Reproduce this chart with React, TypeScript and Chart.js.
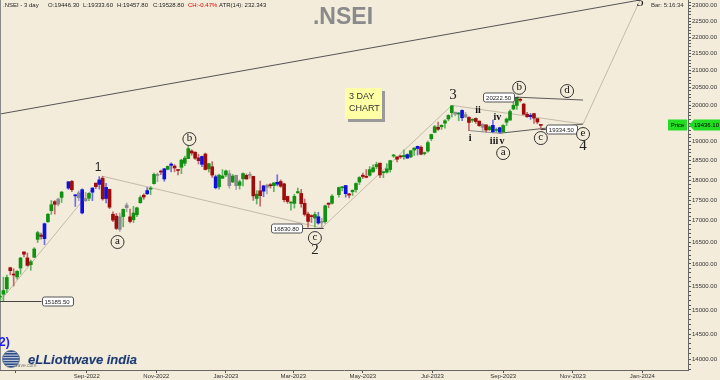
import React, { useEffect, useRef } from 'react';
import { Chart, registerables } from 'chart.js';

Chart.register(...registerables);

// ---- 3-day candles (.NSEI) ----
const barDates = [
  '2022-06-17','2022-06-20','2022-06-23','2022-06-26','2022-06-29','2022-07-02','2022-07-05','2022-07-08','2022-07-11','2022-07-14','2022-07-17','2022-07-20','2022-07-23','2022-07-26','2022-07-29','2022-08-01','2022-08-04','2022-08-07','2022-08-10',
  '2022-08-16','2022-08-19','2022-08-22','2022-08-25','2022-08-28','2022-08-31','2022-09-03','2022-09-06','2022-09-09','2022-09-12','2022-09-15','2022-09-18','2022-09-21','2022-09-24','2022-09-27','2022-09-30',
  '2022-10-03','2022-10-06','2022-10-09','2022-10-12','2022-10-15','2022-10-18','2022-10-21','2022-10-24','2022-10-27','2022-10-30',
  '2022-11-02','2022-11-05','2022-11-08','2022-11-11','2022-11-14','2022-11-17','2022-11-20','2022-11-23','2022-11-26','2022-11-29',
  '2022-12-02','2022-12-05','2022-12-08','2022-12-11','2022-12-14','2022-12-17','2022-12-20','2022-12-23','2022-12-26','2022-12-29',
  '2023-01-01','2023-01-04','2023-01-07','2023-01-10','2023-01-13','2023-01-16','2023-01-19','2023-01-22','2023-01-25','2023-01-28','2023-01-31',
  '2023-02-03','2023-02-06','2023-02-09','2023-02-12','2023-02-15','2023-02-18','2023-02-21','2023-02-24','2023-02-27',
  '2023-03-02','2023-03-05','2023-03-08','2023-03-11','2023-03-14','2023-03-17','2023-03-20','2023-03-23','2023-03-26','2023-03-29',
  '2023-04-01','2023-04-04','2023-04-10','2023-04-13','2023-04-16','2023-04-19','2023-04-22','2023-04-25','2023-04-28',
  '2023-05-01','2023-05-04','2023-05-07','2023-05-10','2023-05-13','2023-05-16','2023-05-19','2023-05-22','2023-05-25','2023-05-28','2023-05-31',
  '2023-06-03','2023-06-06','2023-06-09','2023-06-12','2023-06-15','2023-06-18','2023-06-21','2023-06-24','2023-06-27','2023-06-30',
  '2023-07-03','2023-07-06','2023-07-09','2023-07-12','2023-07-15','2023-07-18','2023-07-21','2023-07-24','2023-07-27','2023-07-30',
  '2023-08-02','2023-08-05','2023-08-08','2023-08-11','2023-08-14','2023-08-17','2023-08-20','2023-08-23','2023-08-26','2023-08-29',
  '2023-09-01','2023-09-04','2023-09-07','2023-09-10','2023-09-13','2023-09-16','2023-09-19','2023-09-22','2023-09-25','2023-09-28',
  '2023-10-01','2023-10-04',
];

const opens = [
  15272,15335,15451,15916,15757,15710,15909,16273,16136,15984,16151,16562,16662,16578,16977,17243,17463,17402,17566,
  17797,17967,17614,17679,17188,17485,17546,17696,17923,17890,18046,17540,17766,17157,17111,16798,
  17102,17379,17094,17025,17144,17438,17622,17736,17771,17910,
  18130,18211,18288,18272,18376,18358,18246,18326,18430,18552,
  18752,18719,18570,18402,18671,18288,18340,18085,17831,18045,
  18131,18163,17952,18121,17867,18033,18119,18118,18094,17541,17731,
  17721,17818,17885,17859,17896,17965,17905,17591,17428,
  17421,17680,17665,17422,17160,17111,17066,17097,16984,16978,
  17428,17422,17634,17807,17863,17654,17707,17761,17951,
  18124,18081,18120,18210,18339,18432,18187,18201,18268,18619,18594,
  18613,18600,18656,18595,18774,18873,18849,18682,18748,19076,
  19246,19385,19400,19497,19612,19787,19800,19748,19850,19666,
  19654,19577,19627,19554,19383,19450,19320,19439,19298,19374,
  19258,19525,19581,19890,19990,20155,20027,19744,19678,19761,
  19622,19446.3,
];
const highs = [
  15400,15707,15749,15928,15892,15852,16150,16275,16248,16087,16370,16752,16706,16947,17172,17490,17490,17548,17720,
  17968,17992,17641,17726,17777,17695,17684,17810,17925,18088,18096,17919,17773,17212,17176,17188,
  17287,17429,17280,17348,17328,17607,17657,17811,17838,18176,
  18178,18255,18297,18362,18442,18395,18262,18534,18614,18888,
  18782,18728,18664,18617,18696,18431,18473,18128,18149,18266,
  18252,18243,18141,18127,17999,18184,18155,18202,18100,17735,17972,
  17870,17898,17916,17939,18135,18005,17924,17599,17467,
  17645,17800,17766,17529,17211,17145,17207,17205,17062,17381,
  17428,17638,17825,17842,17863,17666,17755,17931,18089,
  18180,18267,18344,18389,18458,18432,18218,18420,18508,18662,18603,
  18641,18778,18676,18770,18839,18881,18887,18722,19011,19201,
  19435,19524,19455,19595,19731,19991,19801,19795,19867,19795,
  19678,19620,19645,19557,19482,19458,19425,19584,19366,19388,
  19458,19637,19867,20110,20222,20196,20050,19798,19766,19767,
  19623,19457.8,
];
const lows = [
  15183,15191,15367,15758,15511,15661,15774,16157,15950,15858,16142,16490,16564,16438,16960,17155,17161,17359,17442,
  17765,17710,17345,17487,17166,17467,17488,17487,17786,17772,17497,17429,17291,16978,16788,16748,
  16855,17216,16950,16956,17098,17421,17520,17637,17637,17899,
  17959,18136,17969,18259,18209,18210,18133,18162,18365,18552,
  18639,18528,18410,18345,18255,18202,18068,17779,17774,18037,
  18086,17796,17936,17761,17774,17853,18024,18044,17494,17405,17353,
  17584,17652,17797,17711,17854,17818,17455,17421,17255,
  17306,17671,17325,17113,16850,16958,16850,16917,16828,16940,
  17313,17404,17574,17730,17574,17553,17612,17697,17885,
  18042,18055,18100,18194,18288,18060,18060,18178,18202,18581,18464,
  18556,18531,18555,18574,18633,18646,18647,18646,18720,19024,
  19235,19300,19328,19361,19562,19666,19700,19563,19563,19655,
  19296,19524,19493,19413,19257,19253,19296,19229,19249,19223,
  19255,19432,19581,19865,19879,20086,19739,19657,19601,19492,
  19479,19333.6,
];
const closes = [
  15294,15413,15699,15850,15752,15835,16133,16220,15967,16049,16340,16719,16631,16930,17158,17388,17398,17525,17698,
  17956,17758,17605,17559,17759,17539,17666,17798,17833,18004,17531,17816,17327,17016,16818,17094,
  17274,17315,16984,17186,17312,17564,17576,17656,17786,18145,
  18117,18203,18028,18350,18410,18308,18244,18512,18563,18812,
  18696,18561,18497,18608,18269,18420,18127,17806,18123,18105,
  18233,17859,18101,17858,17957,18165,18027,18118,17604,17649,17610,
  17854,17872,17856,17929,17944,17844,17511,17466,17451,
  17594,17711,17413,17154,16985,17100,17151,16945,16951,17360,
  17398,17599,17812,17828,17660,17624,17744,17915,18065,
  18090,18069,18266,18315,18399,18129,18203,18285,18499,18634,18534,
  18594,18635,18563,18756,18826,18817,18665,18692,18972,19189,
  19399,19332,19439,19564,19711,19979,19745,19778,19646,19733,
  19517,19597,19543,19428,19465,19310,19396,19266,19307,19254,
  19435,19611,19820,19993,20192,20134,19742,19674,19716,19638,
  19529,19436.1,
];

const blueBarDates = ['2022-07-26','2022-08-16','2022-08-22','2022-08-28','2022-09-06','2022-09-12','2022-09-18','2022-10-24','2022-11-08','2022-11-14','2022-12-11','2022-12-23','2023-02-03','2023-02-15','2023-03-23','2023-04-16','2023-06-09','2023-06-18','2023-07-27','2023-08-23','2023-08-29','2023-09-25'];
const grayBarDates = ['2022-08-07','2022-08-25','2022-08-31','2022-09-30','2022-10-06','2022-11-02','2023-01-04','2023-01-10','2023-01-22','2023-02-06','2023-03-26','2023-07-21','2023-07-30','2023-08-14'];

// ---- axes ----
const xTickDates = ['2022-07-01','2022-09-01','2022-11-01','2023-01-01','2023-03-01','2023-05-01','2023-07-01','2023-09-01','2023-11-01','2024-01-01'];
const xTickLabels = ['','Sep-2022','Nov-2022','Jan-2023','Mar-2023','May-2023','Jul-2023','Sep-2023','Nov-2023','Jan-2024'];
const yTickLabels = ['14000.00','14500.00','15000.00','15500.00','16000.00','16500.00','17000.00','17500.00','18000.00','18500.00','19000.00','19500.00','20000.00','20500.00','21000.00','21500.00','22000.00','22500.00','23000.00'];
const xStartDate = '2022-06-17';
const xEndDate = '2024-02-10';
const yMin = 13786;
const yMax = 23179;

// ---- Elliott wave annotations ----
const waveNumbers = [
  { text: '1', date: '2022-09-11', price: 18306, serif: false },
  { text: '2', date: '2023-03-20', price: 16316, serif: true },
  { text: '3', date: '2023-07-19', price: 20283, serif: true },
  { text: '4', date: '2023-11-10', price: 18881, serif: true },
  { text: '5', date: '2023-12-30', price: 23120, serif: true },
];
const circledLetters = [
  { text: 'a', date: '2022-09-28', price: 16500 },
  { text: 'b', date: '2022-11-30', price: 19067 },
  { text: 'c', date: '2023-03-20', price: 16592 },
  { text: 'a', date: '2023-09-01', price: 18696 },
  { text: 'b', date: '2023-09-15', price: 20490 },
  { text: 'c', date: '2023-10-04', price: 19094 },
  { text: 'd', date: '2023-10-27', price: 20397 },
  { text: 'e', date: '2023-11-10', price: 19202 },
];
const romanLabels = [
  { text: 'i', date: '2023-08-03', price: 19094 },
  { text: 'ii', date: '2023-08-10', price: 19861 },
  { text: 'iii', date: '2023-08-24', price: 19014 },
  { text: 'iv', date: '2023-08-27', price: 19666 },
  { text: 'v', date: '2023-08-31', price: 19014 },
];
const channelLine = [['2022-06-17', 19750], ['2023-12-30', 23180]];
const wavePath = [['2022-06-17', 15183], ['2022-09-15', 18096], ['2023-03-26', 16828], ['2023-07-18', 19991], ['2023-11-10', 19473], ['2023-12-30', 23180]];
const triangleUpper = [['2023-09-13', 20222], ['2023-11-10', 20141]];
const triangleLower = [['2023-08-29', 19223], ['2023-11-10', 19473]];
const subwaveLower = [['2023-08-02', 19296], ['2023-08-29', 19223]];
const priceBoxes = [
  { text: '15185.50', price: 15185.5, anchor: '2022-06-17', box: '2022-08-06' },
  { text: '16830.80', price: 16830.8, anchor: '2023-03-26', box: '2023-02-23' },
  { text: '20222.50', price: 20222.5, anchor: '2023-09-13', box: '2023-08-28' },
  { text: '19334.50', price: 19334.5, anchor: '2023-10-04', box: '2023-10-22' },
];
const lastPrice = 19436.1;
const headerItems = [
  { text: '.NSEI - 3 day', x: 3, color: '#222' },
  { text: 'O:19446.30', x: 48, color: '#222' },
  { text: 'L:19333.60', x: 83, color: '#222' },
  { text: 'H:19457.80', x: 117, color: '#222' },
  { text: 'C:19528.80', x: 153, color: '#222' },
  { text: 'CH:-0.47%', x: 188, color: '#e00000' },
  { text: 'ATR(14): 232.343', x: 219, color: '#222' },
];

const BASE = Date.UTC(2022, 8, 1);
function dayNum(s: string) {
  return (Date.UTC(+s.slice(0, 4), +s.slice(5, 7) - 1, +s.slice(8, 10)) - BASE) / 86400000;
}

const BG = '#F3ECDB';
const FONT = "'Liberation Sans', Arial, sans-serif";
const SERIF = "'Liberation Serif', 'Times New Roman', serif";

function kindOf(i: number) {
  if (blueBarDates.includes(barDates[i])) return 'b';
  if (grayBarDates.includes(barDates[i])) return 'k';
  return closes[i] >= opens[i] ? 'g' : 'r';
}
const bodyPalette: Record<string, string> = { g: '#119111', r: '#9e0c0c', b: '#1010dc', k: '#8c8c8c' };
const wickPalette: Record<string, string> = { g: '#5fb45f', r: '#c46a6a', b: '#6f6fe6', k: '#a8a8a8' };

function roundRect(ctx: CanvasRenderingContext2D, x: number, y: number, w: number, h: number, r: number) {
  ctx.beginPath();
  ctx.moveTo(x + r, y);
  ctx.arcTo(x + w, y, x + w, y + h, r);
  ctx.arcTo(x + w, y + h, x, y + h, r);
  ctx.arcTo(x, y + h, x, y, r);
  ctx.arcTo(x, y, x + w, y, r);
  ctx.closePath();
}

const annotPlugin = {
  id: 'ewAnnot',
  beforeDraw(chart: any) {
    const ctx = chart.ctx;
    ctx.save();
    ctx.fillStyle = BG;
    ctx.fillRect(0, 0, chart.width, chart.height);
    ctx.restore();
  },
  beforeDatasetsDraw(chart: any) {
    const { ctx, chartArea: a, scales } = chart;
    const X = (d: string) => scales.x.getPixelForValue(dayNum(d));
    const Y = (p: number) => scales.y.getPixelForValue(p);
    ctx.save();
    ctx.beginPath();
    ctx.rect(a.left, a.top, a.right - a.left, a.bottom - a.top);
    ctx.clip();
    const poly = (pts: any[], color: string) => {
      ctx.strokeStyle = color;
      ctx.lineWidth = 1;
      ctx.beginPath();
      pts.forEach(([d, p]: any, i: number) => (i ? ctx.lineTo(X(d), Y(p)) : ctx.moveTo(X(d), Y(p))));
      ctx.stroke();
    };
    poly(wavePath, '#c4baa8');
    poly(channelLine, '#555555');
    poly(triangleUpper, '#5a5a5a');
    poly(triangleLower, '#5a5a5a');
    poly(subwaveLower, '#8a8a8a');
    ctx.strokeStyle = '#8a8a8a';
    ctx.beginPath();
    ctx.moveTo(a.left + 0.5, a.top);
    ctx.lineTo(a.left + 0.5, a.bottom);
    ctx.stroke();
    ctx.restore();
  },
  afterDatasetsDraw(chart: any) {
    const { ctx, scales } = chart;
    const X = (d: string) => scales.x.getPixelForValue(dayNum(d));
    const Y = (p: number) => scales.y.getPixelForValue(p);
    ctx.save();
    ctx.textAlign = 'center';
    ctx.textBaseline = 'middle';
    ctx.font = `6px ${FONT}`;
    priceBoxes.forEach((b) => {
      const cx = X(b.box);
      const cy = Math.round(Y(b.price)) + 0.5;
      const w = ctx.measureText(b.text).width + 6;
      const h = 9;
      const ax = X(b.anchor);
      ctx.strokeStyle = '#444';
      ctx.lineWidth = 1;
      ctx.beginPath();
      if (ax < cx) { ctx.moveTo(ax, cy); ctx.lineTo(cx - w / 2, cy); }
      else { ctx.moveTo(cx + w / 2, cy); ctx.lineTo(ax + 2, cy); }
      ctx.stroke();
      roundRect(ctx, Math.round(cx - w / 2) + 0.5, Math.round(cy - h / 2), w, h, 2);
      ctx.fillStyle = '#ffffff';
      ctx.fill();
      ctx.strokeStyle = '#555';
      ctx.stroke();
      ctx.fillStyle = '#222';
      ctx.fillText(b.text, cx, cy + 0.5);
    });
    waveNumbers.forEach((w) => {
      ctx.font = w.serif ? `15px ${SERIF}` : `12px ${FONT}`;
      ctx.fillStyle = '#222';
      ctx.fillText(w.text, X(w.date), Y(w.price));
    });
    circledLetters.forEach((c) => {
      const cx = X(c.date);
      const cy = Y(c.price);
      ctx.beginPath();
      ctx.arc(cx, cy, 6.5, 0, Math.PI * 2);
      ctx.fillStyle = BG;
      ctx.fill();
      ctx.strokeStyle = '#333';
      ctx.lineWidth = 1;
      ctx.stroke();
      ctx.font = `11px ${SERIF}`;
      ctx.fillStyle = '#111';
      ctx.fillText(c.text, cx, cy - 0.5);
    });
    ctx.font = `bold 10px ${SERIF}`;
    ctx.fillStyle = '#111';
    romanLabels.forEach((r) => ctx.fillText(r.text, X(r.date), Y(r.price)));
    ctx.restore();
  },
  afterDraw(chart: any) {
    const { ctx, scales, chartArea: a } = chart;
    ctx.save();
    ctx.textBaseline = 'middle';
    ctx.textAlign = 'left';
    ctx.font = `6px ${FONT}`;
    headerItems.forEach((h) => { ctx.fillStyle = h.color; ctx.fillText(h.text, h.x, 5.5); });
    ctx.fillStyle = '#333';
    ctx.fillText('Bar: 5:16:34', 651, 5.5);
    ctx.textAlign = 'center';
    ctx.font = `bold 23px ${FONT}`;
    ctx.fillStyle = '#8a8a8a';
    ctx.fillText('.NSEI', 343, 18);
    ctx.fillStyle = '#9a9a9a';
    ctx.fillRect(348, 91, 37, 31);
    ctx.fillStyle = '#ffffa6';
    ctx.fillRect(345, 88, 37, 31);
    ctx.textAlign = 'left';
    ctx.font = `9px ${FONT}`;
    ctx.fillStyle = '#333';
    ctx.fillText('3 DAY', 349, 97);
    ctx.fillText('CHART', 349, 109);
    const py = Math.round(scales.y.getPixelForValue(lastPrice));
    ctx.fillStyle = '#22dd22';
    ctx.fillRect(a.right - 20, py - 5.5, 19, 11);
    ctx.beginPath();
    ctx.moveTo(a.right + 1, py);
    ctx.lineTo(a.right + 6, py - 5.5);
    ctx.lineTo(720, py - 5.5);
    ctx.lineTo(720, py + 5.5);
    ctx.lineTo(a.right + 6, py + 5.5);
    ctx.closePath();
    ctx.fill();
    ctx.fillStyle = '#000';
    ctx.font = `6px ${FONT}`;
    ctx.textAlign = 'center';
    ctx.fillText('Price', a.right - 10.5, py + 0.5);
    ctx.textAlign = 'left';
    ctx.fillText(lastPrice.toFixed(2), a.right + 6, py + 0.5);
    ctx.fillStyle = '#1a1aff';
    ctx.font = `bold 12px ${FONT}`;
    ctx.fillText('2)', -1, 343);
    const gx = 11, gy = 359, gr = 8.5;
    ctx.beginPath();
    ctx.arc(gx, gy, gr, 0, Math.PI * 2);
    ctx.fillStyle = '#b8c4d4';
    ctx.fill();
    ctx.save();
    ctx.clip();
    ctx.strokeStyle = '#2a4a86';
    ctx.lineWidth = 1.4;
    for (let k = -3; k <= 3; k++) {
      ctx.beginPath();
      ctx.moveTo(gx - gr, gy + k * 2.6);
      ctx.lineTo(gx + gr, gy + k * 2.6);
      ctx.stroke();
    }
    ctx.restore();
    ctx.strokeStyle = '#6a7a98';
    ctx.lineWidth = 1;
    ctx.beginPath();
    ctx.arc(gx, gy, gr, 0, Math.PI * 2);
    ctx.stroke();
    ctx.font = `bold italic 13px ${FONT}`;
    ctx.fillStyle = '#1f3a6e';
    ctx.strokeStyle = '#c8d0dc';
    ctx.lineWidth = 0.6;
    ctx.strokeText('eLLiottwave india', 28, 360);
    ctx.fillText('eLLiottwave india', 28, 360);
    ctx.font = `5px ${FONT}`;
    ctx.fillStyle = '#777';
    ctx.fillText('wave.com', 14, 366);
    ctx.restore();
  },
};

export default function App() {
  const ref = useRef<HTMLCanvasElement>(null);
  useEffect(() => {
    document.body.style.margin = '0';
    const kinds = barDates.map((_, i) => kindOf(i));
    const bodies = barDates.map((d, i) => ({ x: dayNum(d), y: [opens[i], closes[i]] }));
    const wicks = barDates.map((d, i) => ({ x: dayNum(d), y: [lows[i], highs[i]] }));
    const yMajor = yTickLabels.map((t) => parseFloat(t));
    const chart = new Chart(ref.current as HTMLCanvasElement, {
      type: 'bar',
      data: {
        datasets: [
          {
            label: 'body',
            data: bodies as any,
            backgroundColor: kinds.map((k) => bodyPalette[k]),
            barThickness: 3,
            grouped: false,
            minBarLength: 1,
            borderWidth: 0,
            order: 0,
          },
          {
            label: 'wick',
            data: wicks as any,
            backgroundColor: kinds.map((k) => wickPalette[k]),
            barThickness: 1,
            grouped: false,
            minBarLength: 1,
            borderWidth: 0,
            order: 1,
          },
        ],
      },
      options: {
        animation: false,
        responsive: false,
        maintainAspectRatio: false,
        layout: { padding: 0 },
        events: [],
        plugins: { legend: { display: false }, tooltip: { enabled: false }, title: { display: false } },
        scales: {
          x: {
            type: 'linear',
            position: 'bottom',
            min: dayNum(xStartDate),
            max: dayNum(xEndDate),
            offset: false,
            grid: { display: true, offset: false, drawOnChartArea: false, drawTicks: true, tickLength: 3, color: '#555' },
            border: { display: true, color: '#666' },
            ticks: {
              autoSkip: false,
              maxRotation: 0,
              padding: 0,
              color: '#333',
              font: { family: FONT, size: 6 },
              callback: (_v: any, i: number) => xTickLabels[i],
            },
            afterBuildTicks: (s: any) => { s.ticks = xTickDates.map((d) => ({ value: dayNum(d) })); },
            afterFit: (s: any) => { s.height = 10; s.paddingLeft = 0; s.paddingRight = 0; },
          },
          y: {
            type: 'logarithmic',
            position: 'right',
            min: yMin,
            max: yMax,
            grid: { display: true, drawOnChartArea: false, drawTicks: true, tickLength: 3, color: '#555' },
            border: { display: true, color: '#666' },
            ticks: {
              autoSkip: false,
              padding: 1,
              color: '#333',
              font: { family: FONT, size: 6 },
              callback: (v: any) => {
                const idx = yMajor.indexOf(Number(v));
                return idx >= 0 ? yTickLabels[idx] : '';
              },
            },
            afterBuildTicks: (s: any) => {
              const t: any[] = [];
              for (let v = 13800; v <= 23100; v += 100) t.push({ value: v });
              s.ticks = t;
            },
            afterFit: (s: any) => { s.width = 32; s.paddingTop = 0; s.paddingBottom = 0; },
          },
        },
      } as any,
      plugins: [annotPlugin as any],
    });
    return () => chart.destroy();
  }, []);
  return (
    <div style={{ width: 720, height: 380, overflow: 'hidden' }}>
      <canvas ref={ref} width={720} height={380} style={{ display: 'block', width: 720, height: 380 }} />
    </div>
  );
}
